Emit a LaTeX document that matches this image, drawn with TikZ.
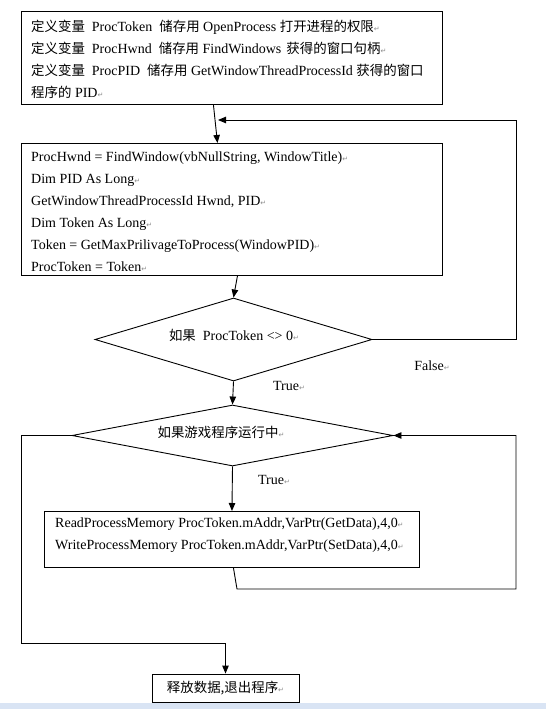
\documentclass[tikz,border=0pt]{standalone}
\usepackage{fontspec}
\setmainfont{Liberation Serif}
\newfontfamily\cjk[Scale=0.96]{Noto Sans CJK SC}
\newfontfamily\symfont{DejaVu Sans}
\usetikzlibrary{shapes.geometric, arrows.meta, positioning, calc}
\usepackage{xcolor}
\definecolor{FlowBlack}{HTML}{000000}
\definecolor{FlowWhite}{HTML}{ffffff}
\definecolor{MarkGray}{HTML}{8C8C8C}
\definecolor{BarBlue}{HTML}{D9E4F4}
\newcommand{\zh}[1]{{\cjk #1}}
\newcommand{\pmk}{{\symfont\fontsize{7}{7}\selectfont\textcolor{MarkGray}{↵}}}
\tikzset{
    % Box styles - plain sharp corners
    codebox/.style={
        rectangle,
        draw=FlowBlack,
        fill=FlowWhite,
        line width=0.9pt,
        anchor=north west,
        inner sep=0pt
    },
    codetext/.style={
        anchor=north west,
        align=left,
        inner sep=0pt,
        font=\fontsize{14}{22}\selectfont
    },
    decision/.style={
        diamond,
        draw=FlowBlack,
        fill=FlowWhite,
        line width=0.9pt,
        inner sep=0pt
    },
    endbox/.style={
        rectangle,
        draw=FlowBlack,
        line width=0.9pt,
        minimum width=147pt,
        minimum height=28pt,
        font=\fontsize{14}{14}\selectfont
    },
    flag/.style={
        inner sep=0pt,
        font=\fontsize{14}{14}\selectfont
    },
    % Arrow styles
    arrow/.style={
        -{Triangle[length=8pt,width=6.5pt]},
        line width=0.9pt,
        draw=FlowBlack
    }
}
\begin{document}
\begin{tikzpicture}[x=1pt, y=-1pt]
    \useasboundingbox (0,0) rectangle (546,709);
    \fill[BarBlue] (0,703) rectangle (546,709);

    \node[codebox, minimum width=421pt, minimum height=93pt] (defs) at (21,11) {};
    \node[codetext] (defstext) at (31,20) {%
        \zh{定义变量}\hspace{7pt}ProcToken\hspace{7pt}\zh{储存用} OpenProcess \zh{打开进程的权限}\pmk\\
        \zh{定义变量}\hspace{7pt}ProcHwnd\hspace{7pt}\zh{储存用} FindWindows\hspace{5pt}\zh{获得的窗口句柄}\pmk\\
        \zh{定义变量}\hspace{7pt}ProcPID\hspace{7pt}\zh{储存用} GetWindowThreadProcessId \zh{获得的窗口}\\
        \zh{程序的} PID\pmk};

    \node[codebox, minimum width=421pt, minimum height=132pt] (query) at (21,143) {};
    \node[codetext] (querytext) at (31,152) {%
        ProcHwnd = FindWindow(vbNullString, WindowTitle)\pmk\\
        Dim PID As Long\pmk\\
        GetWindowThreadProcessId Hwnd, PID\pmk\\
        Dim Token As Long\pmk\\
        Token = GetMaxPrilivageToProcess(WindowPID)\pmk\\
        ProcToken = Token\pmk};

    \node[decision, minimum width=277pt, minimum height=83pt] (check) at (233.5,339.5) {};
    \node[flag] (checktext) at (234,335) {\zh{如果}\hspace{7pt}ProcToken <> 0\pmk};

    \node[decision, minimum width=321pt, minimum height=61pt] (running) at (232.5,435.5) {};
    \node[flag] (runningtext) at (221,432) {\zh{如果游戏程序运行中}\pmk};

    \node[codebox, minimum width=375pt, minimum height=56pt] (memio) at (44,511) {};
    \node[codetext] (memiotext) at (55,518) {%
        ReadProcessMemory ProcToken.mAddr,VarPtr(GetData),4,0\pmk\\
        WriteProcessMemory ProcToken.mAddr,VarPtr(SetData),4,0\pmk};

    \node[endbox] (release) at (225.5,688) {\zh{释放数据,退出程序}\pmk};

    \node[flag] (truea) at (289,386) {True\pmk};
    \node[flag] (falsea) at (432,366) {False\pmk};
    \node[flag] (trueb) at (274,480) {True\pmk};

    \coordinate (retA) at (516,120);
    \coordinate (joinA) at (218,120);
    \coordinate (bendB) at (237,589);
    \coordinate (retB) at (516,435.5);
    \coordinate (exitL) at (21,643);

    \draw[arrow] ([xshift=-18.5pt]defs.south) -- ([xshift=-14.5pt]query.north);
    \draw[arrow] (check.east) -| (retA) -- (joinA);
    \draw[arrow] ([xshift=5.5pt]query.south) -- (check.north);
    \draw[arrow] (check.south) -- (running.north);
    \draw[arrow] (running.south) -- (memio.north);
    \draw[arrow] ([xshift=1.5pt]memio.south) -- (bendB) -| (retB) -- (running.east);
    \draw[arrow] (running.west) -| (exitL) -| (release.north);
\end{tikzpicture}
\end{document}
